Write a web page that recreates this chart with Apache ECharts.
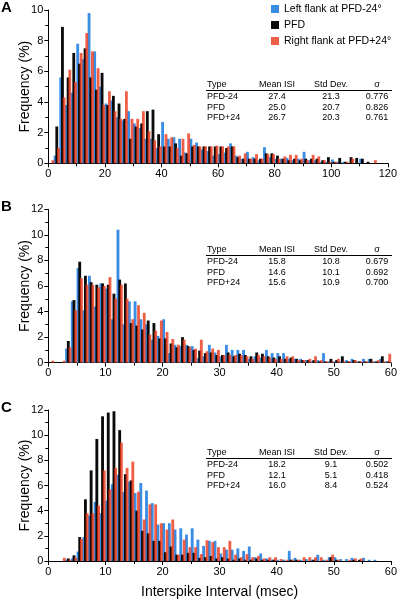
<!DOCTYPE html>
<html><head><meta charset="utf-8">
<script src="https://cdn.jsdelivr.net/npm/echarts@6/dist/echarts.min.js"></script>
<style>html,body{margin:0;padding:0;background:#fff}#c{width:400px;height:600px}</style>
</head><body><div id="c"></div><script>
const seriesNames = ['Left flank at PFD-24°', 'PFD', 'Right flank at PFD+24°'];
const panelLetters = ['A', 'B', 'C'];
const yAxisName = 'Frequency (%)';
const xAxisName = 'Interspike Interval (msec)';

// bin centres (msec)
const binsA = [1,3,5,7,9,11,13,15,17,19,21,23,25,27,29,31,33,35,37,39,41,43,45,47,49,51,53,55,57,59,61,63,65,67,69,71,73,75,77,79,81,83,85,87,89,91,93,95,97,99,101,103,105,107,109,111,113,115,117,119];
const binsBC = [0.5,1.5,2.5,3.5,4.5,5.5,6.5,7.5,8.5,9.5,10.5,11.5,12.5,13.5,14.5,15.5,16.5,17.5,18.5,19.5,20.5,21.5,22.5,23.5,24.5,25.5,26.5,27.5,28.5,29.5,30.5,31.5,32.5,33.5,34.5,35.5,36.5,37.5,38.5,39.5,40.5,41.5,42.5,43.5,44.5,45.5,46.5,47.5,48.5,49.5,50.5,51.5,52.5,53.5,54.5,55.5,56.5,57.5,58.5,59.5];

// Panel A frequencies (%)
const aLeft  = [0,0.5,5.6,3.8,4.6,7.8,6.8,9.8,7.3,5.0,3.9,4.1,3.0,2.8,3.4,2.6,2.3,1.6,1.6,1.0,2.7,1.6,1.7,1.6,0.7,1.6,1.35,0.9,0.8,0.5,0.6,0.7,1.3,0.5,0.3,0.75,0.4,0.2,1.05,0.4,0.3,0.3,0.35,0.2,0.3,0.75,0.2,0.2,0.1,0.1,0.25,0.1,0.1,0,0,0.3,0,0,0,0];
const aPFD   = [0,2.4,8.9,5.6,7.2,6.5,7.5,5.6,4.8,5.9,3.8,4.4,3.9,2.9,1.6,2.4,2.6,3.4,3.5,1.9,1.1,1.1,1.3,0.5,0.65,1.1,1.1,1.1,1.1,1.1,1.1,1.0,1.1,0.4,0.3,0.3,0.3,0.3,0.65,0.65,0.5,0.3,0.2,0.3,0.2,0.3,0.3,0.3,0.2,0.4,0.1,0.35,0.1,0.4,0.35,0.3,0.1,0,0,0];
const aRight = [0.2,1.0,4.3,6.1,5.3,7.2,8.5,7.3,6.2,3.8,4.7,3.4,2.9,4.7,2.9,2.9,3.4,2.1,1.5,1.1,1.9,1.7,1.0,1.6,1.95,1.2,1.1,1.1,1.1,1.15,1.1,1.1,1.1,0.5,0.65,0.3,0.6,0.3,0.6,0.6,0.3,0.45,0.55,0.55,0.3,0.2,0.55,0.45,0.2,0.1,0.1,0,0.1,0.3,0,0,0,0.2,0,0];

// Panel B frequencies (%)
const bLeft  = [0,0,0,1.1,4.8,7.4,4.1,6.8,4.4,6.2,5.8,3.4,10.4,3.0,4.8,4.8,3.4,3.0,1.8,2.1,3.4,0.75,1.4,1.3,1.4,1.3,0.35,0.5,1.4,0.8,0.5,1.4,1.0,1.0,1.0,0.3,0.5,0.4,1.0,0.75,0.75,0.75,0.3,0.3,0.3,0.2,0.1,0.2,0.75,0.1,0.1,0.1,0.2,0.3,0.1,0.3,0.3,0.1,0.3,0.1];
const bPFD   = [0,0,0,1.7,4.9,7.9,6.8,6.3,6.1,6.2,6.1,5.4,6.5,6.2,3.1,2.9,2.6,3.3,3.1,1.9,1.9,1.5,1.2,2.0,1.3,1.0,0.95,0.75,0.8,0.6,0.6,0.8,0.5,0.7,0.6,0.5,0.8,0.7,0.5,0.4,0.5,0.3,0.4,0.3,0.2,0.2,0.2,0.1,0.1,0.3,0.2,0.5,0.1,0.2,0.1,0.1,0.3,0.1,0.5,0.1];
const bRight = [0.15,0,0.15,1.2,4.1,6.6,6.1,6.1,5.9,6.0,6.7,5.0,6.1,5.0,3.4,4.5,3.9,2.2,2.5,3.3,2.4,1.85,1.4,1.8,1.2,1.1,1.8,0.9,1.1,1.0,0.6,0.6,0.6,0.6,0.5,0.3,0.6,0.5,0.4,0.3,0.3,0.5,0.5,0.2,0.2,0.3,0.5,0.2,0.1,0.1,0.3,0.1,0.1,0.2,0.1,0.1,0.1,0.2,0.1,0.7];

// Panel C frequencies (%)
const cLeft  = [0,0,0,0.1,0.2,0.75,1.9,3.6,4.7,3.8,4.8,6.1,6.85,5.5,6.3,5.4,6.2,5.6,4.6,2.9,3.0,3.0,2.5,2.6,2.1,2.6,1.7,1.2,1.6,1.6,0.6,0.9,0.9,1.0,0.8,1.15,0.3,0.6,0.2,0.1,0.1,0.1,0.8,0.25,0.1,0.15,0.1,0.5,0.1,0.3,0.3,0.15,0.15,0.25,0,0.25,0.1,0.1,0,0];
const cPFD   = [0,0,0,0.2,0.45,1.9,4.9,7.2,9.7,11.5,11.8,11.9,10.4,6.9,6.4,4.0,2.4,2.2,1.6,1.6,0.7,1.15,0.5,0.5,0.65,0.65,0.25,0.3,0.4,0.2,0.3,0.2,0.1,0.2,0.1,0.1,0.2,0.1,0.1,0.1,0,0,0.1,0.1,0,0,0.1,0,0,0.3,0.1,0,0,0.1,0.1,0,0,0,0,0];
const cRight = [0,0,0.25,0.1,0.25,1.75,3.8,3.8,4.4,7.2,5.7,7.4,9.4,7.4,7.9,5.5,3.3,4.5,4.5,3.0,2.5,3.3,0.5,1.7,1.1,1.1,0.55,1.65,1.5,1.1,1.1,1.6,0.5,0.3,0.55,0.3,0.4,0.2,0.3,0.3,0.15,0.1,0.1,0.1,0.3,0.3,0.3,0.3,0.1,0.5,0.1,0,0.1,0.2,0.2,0,0,0,0,0];

// statistics tables
const tableHeader = ['Type', 'Mean ISI', 'Std Dev.', 'σ'];
const tableTypes = ['PFD-24', 'PFD', 'PFD+24'];
const meanA = ['27.4', '25.0', '26.7'], sdA = ['21.3', '20.7', '20.3'], sigA = ['0.776', '0.826', '0.761'];
const meanB = ['15.8', '14.6', '15.6'], sdB = ['10.8', '10.1', '10.9'], sigB = ['0.679', '0.692', '0.700'];
const meanC = ['18.2', '12.1', '16.0'], sdC = ['9.1', '5.1', '8.4'], sigC = ['0.502', '0.418', '0.524'];

// axes
const xMaxes = [120, 60, 60], xIntervals = [20, 10, 10];
const yMaxes = [10, 12, 12];

const colors = ['#3a8de4', '#0a0a0a', 'rgba(235,55,25,0.8)'];
const FONT = 'Liberation Sans, Arial, sans-serif';

const panels = [
  {bins: binsA, vals: [aLeft, aPFD, aRight], mean: meanA, sd: sdA, sig: sigA},
  {bins: binsBC, vals: [bLeft, bPFD, bRight], mean: meanB, sd: sdB, sig: sigB},
  {bins: binsBC, vals: [cLeft, cPFD, cRight], mean: meanC, sd: sdC, sig: sigC}
];
const gridTops = [10, 209.3, 410];
const gridHeights = [153.3, 153.4, 154];
const tableTops = [85, 250, 453];

const grid = [], xAxis = [], yAxis = [], series = [], graphic = [];
panels.forEach((p, k) => {
  grid.push({left: 48.3, width: 343.7, top: gridTops[k], height: gridHeights[k]});
  xAxis.push({
    type: 'value', gridIndex: k, min: 0, max: xMaxes[k], interval: xIntervals[k],
    axisLine: {lineStyle: {color: '#000', width: 1}},
    axisTick: {show: true, length: 4, lineStyle: {color: '#000'}},
    minorTick: {show: true, splitNumber: 2, length: 3, lineStyle: {color: '#000'}},
    splitLine: {show: false},
    axisLabel: {color: '#000', fontSize: 11, fontFamily: FONT, margin: 5},
    name: k === 2 ? xAxisName : '', nameLocation: 'middle', nameGap: 24,
    nameTextStyle: {color: '#000', fontSize: 14, fontFamily: FONT}
  });
  yAxis.push({
    type: 'value', gridIndex: k, min: 0, max: yMaxes[k], interval: 2,
    axisLine: {show: true, lineStyle: {color: '#000', width: 1}},
    axisTick: {show: true, length: 4, lineStyle: {color: '#000'}},
    minorTick: {show: true, splitNumber: 2, length: 3, lineStyle: {color: '#000'}},
    splitLine: {show: false},
    axisLabel: {color: '#000', fontSize: 11, fontFamily: FONT, margin: 5},
    name: yAxisName, nameLocation: 'middle', nameGap: 16, nameRotate: 90,
    nameMoveOverlap: false,
    nameTextStyle: {color: '#000', fontSize: 14, fontFamily: FONT}
  });
  p.vals.forEach((vals, s) => {
    series.push({
      type: 'bar', name: seriesNames[s], xAxisIndex: k, yAxisIndex: k,
      data: p.bins.map((b, i) => [b, vals[i]]),
      barWidth: '50%', barGap: '-40%',
      itemStyle: {color: colors[s]},
      silent: true, animation: false, z: 2 + s
    });
  });
  // panel letter
  graphic.push({type: 'text', left: 1, top: gridTops[k] - 10,
    style: {text: panelLetters[k], fill: '#000', font: 'bold 15px ' + FONT}});
  // table
  const t0 = tableTops[k];
  const colX = [207, 277, 331, 377];
  const colAlign = ['left', 'center', 'center', 'center'];
  tableHeader.forEach((h, j) => graphic.push({type: 'text', x: colX[j], y: t0,
    style: {text: h, fill: '#000', font: '9px ' + FONT, textAlign: colAlign[j], textVerticalAlign: 'middle'}}));
  graphic.push({type: 'line', shape: {x1: 206, y1: t0 + 5.5, x2: 392, y2: t0 + 5.5}, style: {stroke: '#000', lineWidth: 1}});
  tableTypes.forEach((tp, r) => {
    const y = t0 + 12 + r * 10.5;
    const row = [tp, p.mean[r], p.sd[r], p.sig[r]];
    row.forEach((v, j) => graphic.push({type: 'text', x: colX[j], y: y,
      style: {text: v, fill: '#000', font: '9px ' + FONT, textAlign: colAlign[j], textVerticalAlign: 'middle'}}));
  });
});

const chart = echarts.init(document.getElementById('c'), null, {renderer: 'canvas'});
chart.setOption({
  animation: false,
  grid, xAxis, yAxis, series, graphic,
  legend: {
    data: seriesNames, orient: 'vertical', left: 271, top: 3, padding: 0,
    itemWidth: 8, itemHeight: 8, itemGap: 4, icon: 'rect',
    textStyle: {color: '#000', fontSize: 10.5, lineHeight: 12, fontFamily: FONT},
    selectedMode: false
  }
});
</script></body></html>
